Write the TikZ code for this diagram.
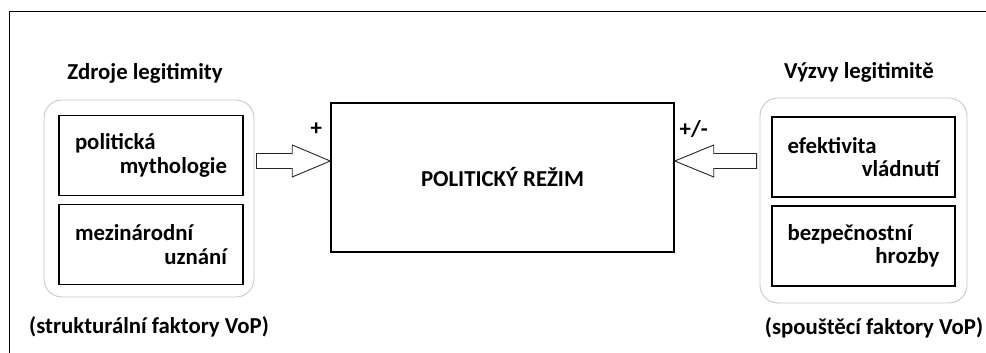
\documentclass[tikz,border=0pt]{standalone}
\usepackage{fontspec}
\setmainfont{Carlito}
\usepackage{tikz}
\usetikzlibrary{calc}
\tikzstyle{regimebox} = [rectangle, draw, line width=1.5pt, text centered, minimum width=343pt, minimum height=149pt]
\tikzstyle{group} = [rectangle, draw=black!22, line width=0.9pt, rounded corners=18pt]
\tikzstyle{factor} = [rectangle, draw, line width=1.5pt, minimum width=184pt, minimum height=80pt, text width=152pt, align=left]
\tikzstyle{caption} = [text centered]
\tikzstyle{hollow} = [line width=0.9pt, draw=black!85, fill=white, line join=miter]

\begin{document}
\begin{tikzpicture}[x=1pt, y=1pt, node distance=89pt, every node/.append style={font=\fontsize{22.8}{23.5}\selectfont\bfseries}]
        \useasboundingbox (0,0) rectangle (986,353);
        \draw [line width=1.5pt] (9.5,0) |- (986,341.5);
        % the regime in the middle
        \node (regime) [regimebox] at (502.5,175.5) {POLITICK\'Y RE\v{Z}IM};
        % sources on the left
        \node (sources) [group, minimum width=210pt, minimum height=197pt] at (149,154.5) {};
        \node (myth) [factor] at (151,197.5) {politick\'a\\\mbox{}\hfill mythologie};
        \node (recog) [factor, below of = myth] {mezin\'arodn\'i\\\mbox{}\hfill uzn\'an\'i};
        \node (srctitle) [caption, above of = sources, yshift=36.5pt, xshift=-4pt] {Zdroje legitimity};
        \node (srcnote) [caption, below of = sources, yshift=-39.5pt] {(struktur\'aln\'i faktory VoP)};
        % challenges on the right
        \node (challenges) [group, minimum width=207pt, minimum height=205pt] at (863.5,152.5) {};
        \node (effect) [factor, minimum width=183pt] at (863.5,196) {efektivita\\\mbox{}\hfill vl\'adnut\'i};
        \node (threats) [factor, minimum width=183pt, below of = effect] {bezpe\v{c}nostn\'i\\\mbox{}\hfill hrozby};
        \node (chtitle) [caption, above of = challenges, yshift=39.5pt, xshift=-4.5pt] {V\'yzvy legitimit\v{e}};
        \node (chnote) [caption, below of = challenges, yshift=-38.5pt, xshift=10.5pt] {(spou\v{s}t\v{e}c\'i faktory VoP)};
        % arrows into the regime
        \coordinate (ltip) at ($(regime.west)+(0,16.5)$);
        \coordinate (lbase) at ($(ltip)+(-38,0)$);
        \coordinate (lstart) at ($(sources.east |- ltip)+(2,0)$);
        \draw [hollow] ($(lstart)+(0,7.5)$) -- ($(lbase)+(0,7.5)$) -- ($(lbase)+(0,16)$) -- (ltip)
            -- ($(lbase)+(0,-16)$) -- ($(lbase)+(0,-7.5)$) -- ($(lstart)+(0,-7.5)$) -- cycle;
        \coordinate (rtip) at ($(regime.east)+(0,16.5)$);
        \coordinate (rbase) at ($(rtip)+(39,0)$);
        \coordinate (rstart) at ($(challenges.west |- rtip)+(-3,0)$);
        \draw [hollow] ($(rstart)+(0,7.5)$) -- ($(rbase)+(0,7.5)$) -- ($(rbase)+(0,16)$) -- (rtip)
            -- ($(rbase)+(0,-16)$) -- ($(rbase)+(0,-7.5)$) -- ($(rstart)+(0,-7.5)$) -- cycle;
        \node (plus) at ($(regime.north west)+(-14,-27)$) {+};
        \node (plusminus) at ($(regime.north east)+(19,-27)$) {+/-};
    \end{tikzpicture}
\end{document}
